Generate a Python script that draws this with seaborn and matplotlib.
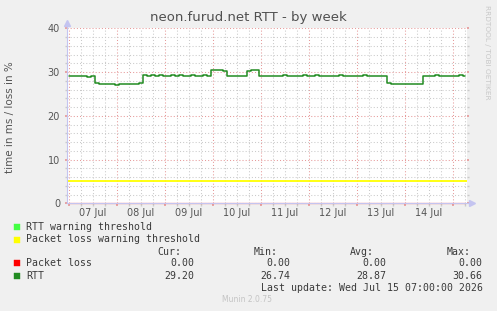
import seaborn as sns
import matplotlib.pyplot as plt
import matplotlib.dates as mdates
from matplotlib.ticker import FuncFormatter, MultipleLocator
from matplotlib.patches import Rectangle
import numpy as np
import pandas as pd

# RTT (ms), one value per 2 hours, window ends Wed Jul 15 07:00 2026
rtt = [29.2, 29.2, 29.1, 29.2, 29.1, 28.8, 29.2,
       27.4, 27.3, 27.3, 27.2, 27.3, 27.1, 27.3, 27.2, 27.3, 27.3, 27.2, 27.4,
       29.3, 29.2, 29.3, 29.2, 29.3, 29.2, 29.2, 29.3, 29.2, 29.3, 29.2, 29.2,
       29.3, 29.2, 29.2, 29.3, 29.2,
       30.4, 30.5, 30.4, 30.3,
       29.2, 29.1, 29.2, 29.2, 29.1,
       30.3, 30.5, 30.4,
       29.1, 29.2, 29.2, 29.1, 29.2, 29.2, 29.3, 29.2, 29.2, 29.1, 29.2, 29.3,
       29.2, 29.2, 29.3, 29.2, 29.2, 29.1, 29.2, 29.2, 29.3, 29.2, 29.2, 29.1,
       29.2, 29.2, 29.3, 29.2, 29.1, 29.2, 29.2, 29.2,
       27.5, 27.3, 27.3, 27.2, 27.3, 27.3, 27.2, 27.3, 27.3,
       29.1, 29.2, 29.2, 29.3, 29.2, 29.2, 29.1, 29.2, 29.2, 29.3, 29.2]
packet_loss = [0.0] * len(rtt)
loss_warning = 5

legend_names = ["RTT warning threshold", "Packet loss warning threshold"]
legend_colors = ["#44ff44", "#ffff00"]
series_names = ["Packet loss", "RTT"]
series_colors = ["#ff0000", "#228b22"]
cur_vals = [0.00, 29.20]
min_vals = [0.00, 26.74]
avg_vals = [0.00, 28.87]
max_vals = [0.00, 30.66]
last_update = "Wed Jul 15 07:00:00 2026"

end = pd.Timestamp("2026-07-15 07:00")
start = end - pd.Timedelta(hours=2 * len(rtt))
times = start + pd.to_timedelta(np.arange(len(rtt)) * 2 + 1, unit="h")
df = pd.DataFrame({"time": times, "rtt": rtt, "loss": packet_loss})

sns.set_theme(style="white")
plt.rcParams["font.family"] = ["DejaVu Sans"]

W, H = 497, 311
fig = plt.figure(figsize=(W / 100, H / 100), dpi=100, facecolor="#f0f0f0")
ax = fig.add_axes([67 / W, 1 - 203.3 / H, 400 / W, 175 / H])
ax.set_facecolor("white")

def px(x, y):
    return x / W, 1 - y / H

# grid
ax.set_ylim(0, 40)
ax.set_xlim(start, end)
ax.yaxis.set_major_locator(MultipleLocator(10))
ax.yaxis.set_minor_locator(MultipleLocator(2))
ax.xaxis.set_major_locator(mdates.HourLocator(byhour=[0]))
ax.xaxis.set_minor_locator(mdates.HourLocator(byhour=[6, 12, 18]))
ax.xaxis.set_major_formatter(FuncFormatter(lambda v, p: ""))
ax.xaxis.set_minor_formatter(FuncFormatter(
    lambda v, p: mdates.num2date(v).strftime("%d %b") if mdates.num2date(v).hour == 12 else ""))
ax.grid(which="minor", color="#cacaca", linestyle=(0, (1, 2)), linewidth=0.75)
ax.grid(which="major", color="#e69a9a", linestyle=(0, (1, 2)), linewidth=0.75)
ax.set_axisbelow(True)

ax.axhline(loss_warning, color=legend_colors[1], linewidth=1.3)
sns.lineplot(data=df, x="time", y="rtt", ax=ax, color=series_colors[1],
             linewidth=1.1, drawstyle="steps-mid")
sns.lineplot(data=df, x="time", y="loss", ax=ax, color=series_colors[0],
             linewidth=0.9, alpha=0.6, clip_on=False)

for s in ["top", "right"]:
    ax.spines[s].set_visible(False)
ax.spines["left"].set_color("#c4c4f0")
ax.spines["bottom"].set_color("#c4c4f0")
ax.spines["left"].set_linewidth(0.8)
ax.spines["bottom"].set_linewidth(0.8)
ax.plot([0, 0], [1, 1.02], transform=ax.transAxes, color="#c4c4f0", lw=0.8, clip_on=False)
ax.plot([1, 1.008], [0, 0], transform=ax.transAxes, color="#c4c4f0", lw=0.8, clip_on=False)
ax.plot([0], [1.03], marker="^", markersize=4, color="#c4c4f0", transform=ax.transAxes, clip_on=False)
ax.plot([1.012], [0], marker=">", markersize=4, color="#c4c4f0", transform=ax.transAxes, clip_on=False)

ax.set_xlabel("")
ax.set_ylabel("")
ax.tick_params(axis="both", which="both", labelsize=7, labelcolor="#555555")
ax.tick_params(axis="x", which="major", length=2.2, color="#e69a9a", direction="out", bottom=True, pad=1)
ax.tick_params(axis="x", which="minor", length=2.2, color="#cacaca", direction="out", bottom=True, pad=1.5)
ax.tick_params(axis="y", which="major", length=1.5, color="#e69a9a", left=True, right=True, pad=3.5)
ax.tick_params(axis="y", which="minor", length=1.5, color="#cacaca", left=True, right=True)

fig.text(*px(248, 18), "neon.furud.net RTT - by week", ha="center", va="center",
         fontsize=9.5, color="#505050")
fig.text(*px(10.5, 117), "time in ms / loss in %", ha="center", va="center",
         rotation=90, fontsize=7.5, color="#555555")
fig.text(*px(487.5, 5), "RRDTOOL / TOBI OETIKER", ha="center", va="top",
         rotation=270, fontsize=5.3, color="#c8c8c8")
fig.text(*px(247.5, 300), "Munin 2.0.75", ha="center", va="center",
         fontsize=5.5, color="#c4c4c4")

mono = dict(family="DejaVu Sans Mono", fontsize=7.1, color="#3a3a3a", va="center")

def square(y, color):
    fig.add_artist(Rectangle(px(14, y + 3), 6 / W, 6 / H, transform=fig.transFigure,
                             facecolor=color, edgecolor=color, linewidth=0.3))

row_y = 227.3
for name, color in zip(legend_names, legend_colors):
    square(row_y, color)
    fig.text(*px(26.3, row_y), name, **mono)
    row_y += 12.2

for label, x in zip(["Cur:", "Min:", "Avg:", "Max:"], [181, 277.7, 374.3, 471]):
    fig.text(*px(x, 251.7), label, ha="right", **mono)
row_y = 263.4
for i, (name, color) in enumerate(zip(series_names, series_colors)):
    square(row_y, color)
    fig.text(*px(26.3, row_y), name, **mono)
    for vals, x in zip([cur_vals, min_vals, avg_vals, max_vals], [194.3, 290.7, 386.7, 482.7]):
        fig.text(*px(x, row_y), f"{vals[i]:.2f}", ha="right", **mono)
    row_y += 12.2

fig.text(*px(482.7, 287.7), "Last update: " + last_update, ha="right", **mono)

fig.savefig("out.png", dpi=100, facecolor=fig.get_facecolor())
